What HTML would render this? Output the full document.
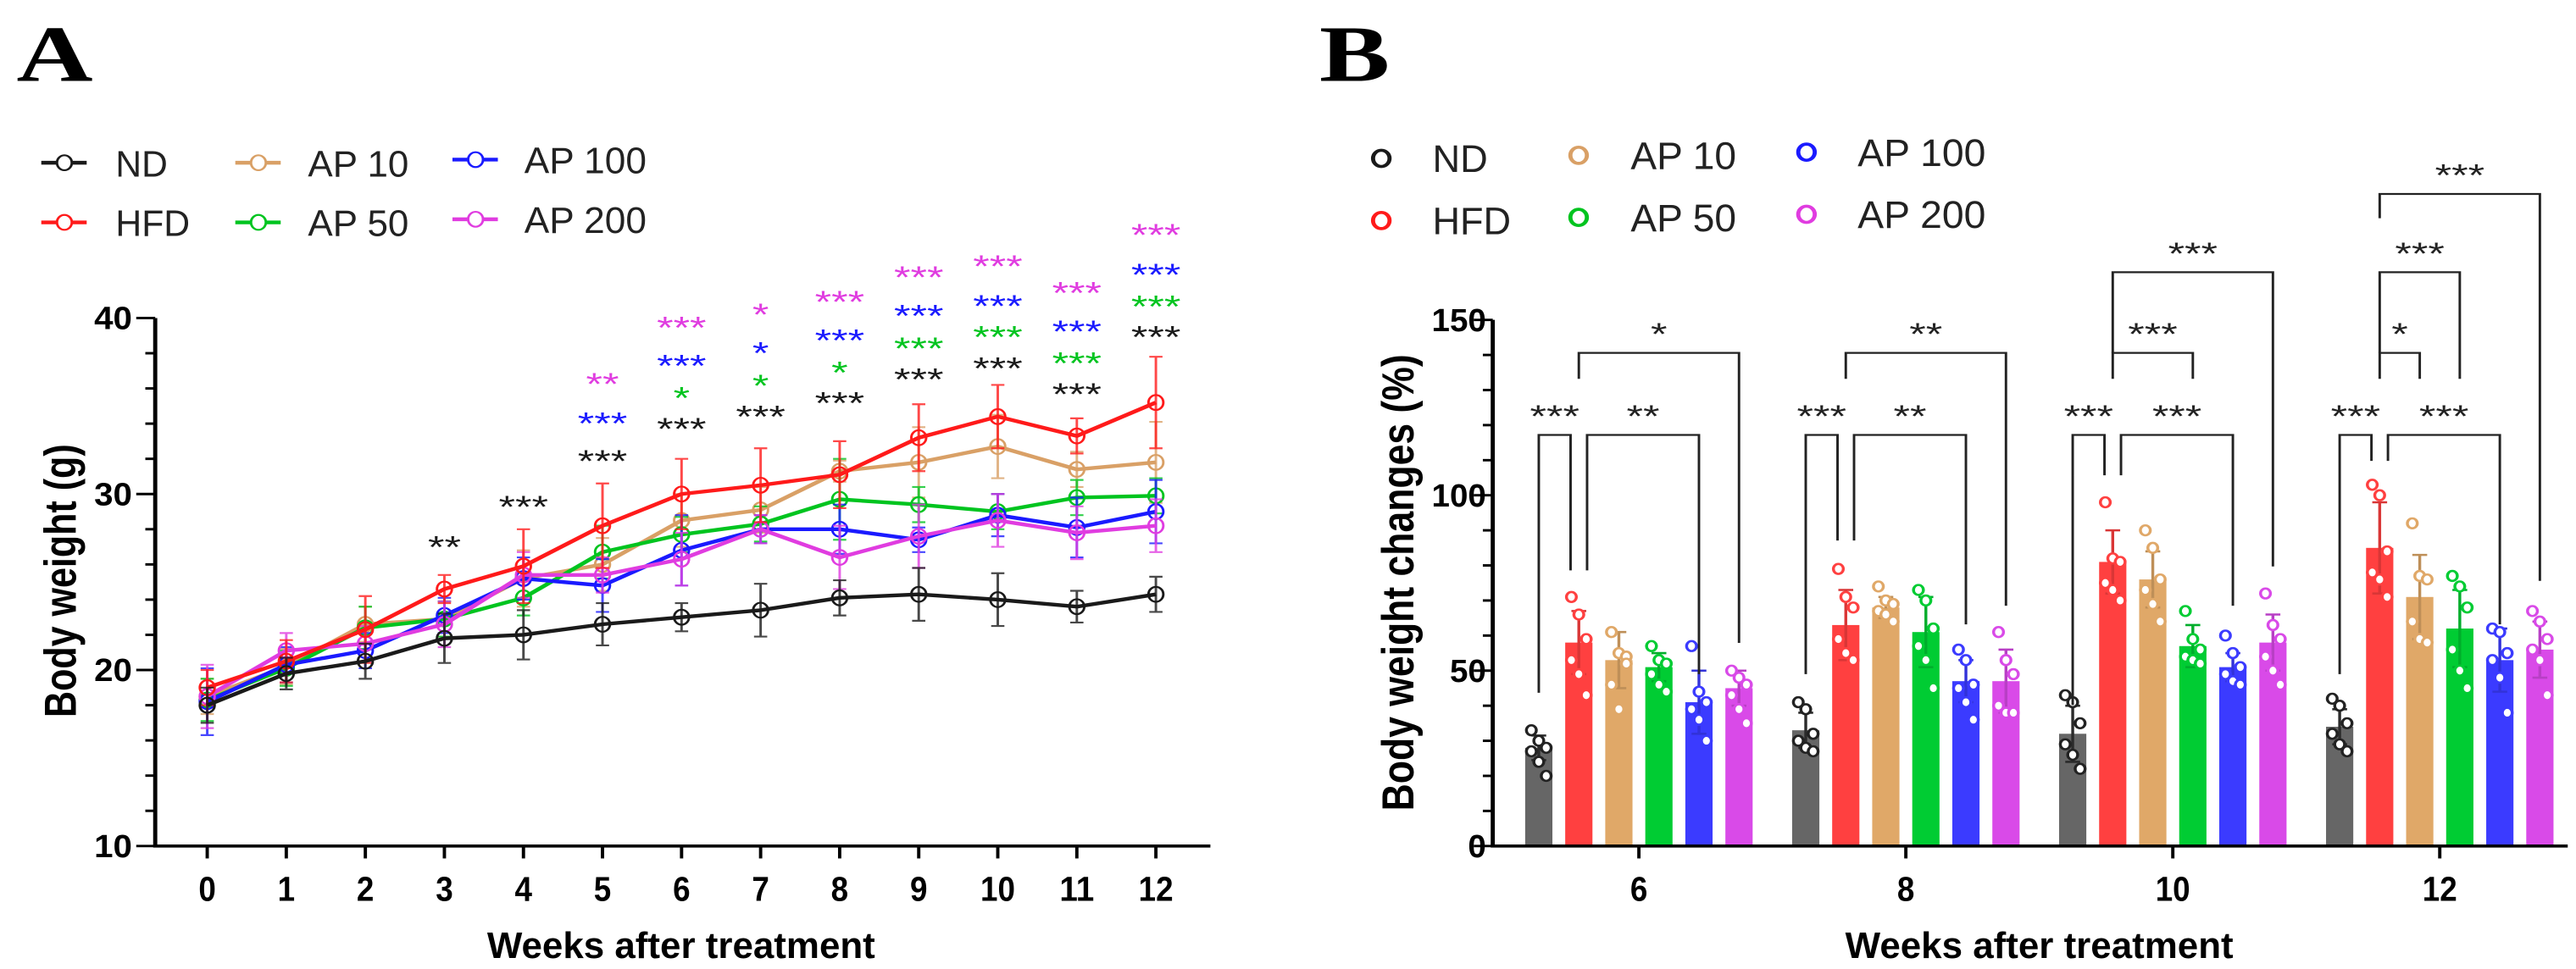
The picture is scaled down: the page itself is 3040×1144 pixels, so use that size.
<!DOCTYPE html>
<html><head><meta charset="utf-8"><style>
html,body{margin:0;padding:0;background:#fff;}
#wrap{position:relative;width:3040px;height:1144px;overflow:hidden;}
svg{position:absolute;top:0;}
text{font-family:"Liberation Sans",sans-serif;}
</style></head><body>
<div id="wrap">
<svg id="pa" style="left:0" width="1520" height="1144" viewBox="0 0 1560 1560" preserveAspectRatio="none"></svg>
<svg id="pb" style="left:1520px" width="1520" height="1144" viewBox="0 0 1560 1560" preserveAspectRatio="none"></svg>
</div>
<script>
// ---------- Panel A data ----------
const weeks = [0,1,2,3,4,5,6,7,8,9,10,11,12];
const seriesNames = ["ND","HFD","AP 10","AP 50","AP 100","AP 200"];
const ndVals   = [18.0,19.8,20.5,21.8,22.0,22.6,23.0,23.4,24.1,24.3,24.0,23.6,24.3];
const hfdVals  = [19.0,20.5,22.3,24.6,25.9,28.2,30.0,30.5,31.1,33.2,34.4,33.3,35.2];
const ap10Vals = [18.5,20.2,22.6,22.9,25.2,26.0,28.5,29.1,31.3,31.8,32.7,31.4,31.8];
const ap50Vals = [18.3,20.1,22.4,22.9,24.1,26.7,27.7,28.3,29.7,29.4,29.0,29.8,29.9];
const ap100Vals= [18.2,20.3,21.1,23.1,25.2,24.8,26.8,28.0,28.0,27.4,28.8,28.1,29.0];
const ap200Vals= [18.5,21.1,21.5,22.6,25.4,25.4,26.3,28.0,26.4,27.6,28.5,27.8,28.2];
const ndErr   = [1,0.9,1,1.4,1.4,1.2,0.8,1.5,1,1.5,1.5,0.9,1];
const hfdErr  = [1,1.2,1.9,0.8,2.1,2.4,2,2.1,1.9,1.9,1.8,1,2.6];
const ap10Err = [1,1,1,1,1.6,1.5,1.5,1.3,0.6,2,1.8,1,2.3];
const ap50Err = [1.2,1,1.2,1,1,1.5,1,1,2.3,1,1,1,1];
const ap100Err= [1.9,1,1,1,1.2,1.5,2,0.8,1.4,0.7,1.2,1.7,1.8];
const ap200Err= [1.8,1,1,1.3,1.3,1,1.5,0.8,1.8,1.8,1.5,1.5,1.5];
const yTicksA = [10,20,30,40];
const starWeeks = [3,4,5,5,5,6,6,6,6,7,7,7,7,8,8,8,8,9,9,9,9,10,10,10,10,11,11,11,11,12,12,12,12];
const starLabels = ["**","***","***","***","**","***","*","***","***","***","*","*","*","***","*","***","***","***","***","***","***","***","***","***","***","***","***","***","***","***","***","***","***"];
const starGroups = [0,0,0,4,5,0,3,4,5,0,3,4,5,0,3,4,5,0,3,4,5,0,3,4,5,0,3,4,5,0,3,4,5];
const starVals = [27.44,29.73,32.31,34.46,36.69,34.14,35.91,37.74,39.90,34.85,36.61,38.45,40.64,35.63,37.36,39.19,41.38,36.97,38.73,40.57,42.76,37.60,39.37,41.13,43.39,36.12,37.89,39.69,41.87,39.37,41.10,42.90,45.16];

// ---------- Panel B data ----------
const groupLabels = ["6","8","10","12"];
const barMeans = [[28,58,53,51,41,45],[33,63,68,61,47,47],[32,81,76,57,51,58],[34,85,71,62,53,56]];
const barSD = [[3.5,9,8,4,9,5],[5,10,3,10,6,9],[8,9,8,6,4,8],[5,13,12,11,9,8]];
const pts6 = [[33,30,28,27,24,20],[71,66,59,53,49,43],[61,55,54,46,39,52],[57,53,52,49,46,44],[57,44,41,39,36,30],[50,48,46,43,39,35]];
const pts8 = [[41,39,32,30,28,27],[79,71,68,59,55,53],[74,70,69,67,66,64],[73,70,62,57,53,45],[56,53,46,45,41,36],[61,53,49,40,38,38]];
const pts10 = [[43,41,35,29,26,22],[98,82,81,75,73,70],[90,85,76,73,69,64],[67,59,56,54,53,52],[60,55,51,49,47,46],[72,63,59,54,50,46]];
const pts12 = [[42,40,35,32,29,27],[103,100,84,78,76,71],[92,77,76,64,59,58],[77,74,68,56,50,45],[62,61,55,53,48,38],[67,64,59,56,53,43]];
const yTicksB = [0,50,100,150];
// brackets: group, barFrom, barTo, offFrom, offTo, top%, leftLegBottom%, rightLegBottom%, label
const brackets = [
 [0,0,1,0,-10,117.2,43.7,78.6,"***"],[0,1,4,10,0,117.2,78.6,49,"**"],[0,1,5,0,0,140.6,133.2,57.9,"*"],
 [1,0,1,0,-10,117.2,49,87.1,"***"],[1,1,4,10,0,117.2,87.1,63.2,"**"],[1,1,5,0,0,140.6,133.2,68.5,"**"],
 [2,0,1,0,-10,117.2,40.2,105.7,"***"],[2,1,4,10,0,117.2,105.7,68.5,"***"],[2,1,3,0,0,140.6,133.2,133.2,"***"],[2,1,5,0,0,163.6,140.6,79.7,"***"],
 [3,0,1,0,-10,117.2,49,109.8,"***"],[3,1,4,10,0,117.2,109.8,63.2,"***"],[3,1,2,0,0,140.6,133.2,133.2,"*"],[3,1,3,0,0,163.6,140.6,133.2,"***"],[3,1,5,0,0,185.9,179,75.6,"***"]
];

const lineColors = ["#1a1a1a","#ff1a1a","#d9a066","#00c41f","#1a1aff","#e03ce0"];
const barColors  = ["#666666","#ff4040","#e0a868","#00cc33","#3b3bff","#d94ae8"];
const NS="http://www.w3.org/2000/svg";
function mk(parent,tag,attrs,txt){const e=document.createElementNS(NS,tag);for(const k in attrs)e.setAttribute(k,attrs[k]);if(txt!==undefined)e.textContent=txt;parent.appendChild(e);return e;}

// ===== Panel A =====
const A=document.getElementById('pa');
const xA=w=>251+w*(1400-251)/12;
const yA=v=>1362-(v-10)*(850/30);
let t=mk(A,'text',{x:20,y:130,'font-size':128,'font-weight':'bold',style:'font-family:"Liberation Serif",serif'},'A');


let ax=mk(A,'path',{d:`M188 ${yA(40)} V1362 H1466`,stroke:'#000','stroke-width':5,fill:'none'});


for(let v=10;v<=40;v+=2){const maj=(v%10===0);mk(A,'line',{x1:maj?165:176,x2:188,y1:yA(v),y2:yA(v),stroke:'#000','stroke-width':4});}
yTicksA.forEach(v=>{const e=mk(A,'text',{x:160,y:yA(v)+18,'text-anchor':'end','font-size':52,'font-weight':'bold',textLength:46,lengthAdjust:'spacingAndGlyphs'},String(v));

});
weeks.forEach(w=>{mk(A,'line',{x1:xA(w),x2:xA(w),y1:1362,y2:1382,stroke:'#000','stroke-width':4});
const e=mk(A,'text',{x:xA(w),y:1450,'text-anchor':'middle','font-size':56,'font-weight':'bold',textLength:String(w).length*21,lengthAdjust:'spacingAndGlyphs'},String(w));

});
t=mk(A,'text',{x:825,y:1542,'text-anchor':'middle','font-size':60,'font-weight':'bold',textLength:470,lengthAdjust:'spacingAndGlyphs'},'Weeks after treatment');


t=mk(A,'text',{x:0,y:0,transform:'translate(92 935) rotate(-90)','text-anchor':'middle','font-size':54,'font-weight':'bold',textLength:440,lengthAdjust:'spacingAndGlyphs'},'Body weight (g)');


const allVals=[ndVals,hfdVals,ap10Vals,ap50Vals,ap100Vals,ap200Vals];
const allErr=[ndErr,hfdErr,ap10Err,ap50Err,ap100Err,ap200Err];
const drawOrder=[2,3,4,5,1,0];
drawOrder.forEach(s=>{
  const g=mk(A,'g',{});
  
  
  const c=lineColors[s];
  weeks.forEach((w,i)=>{const v=allVals[s][i],e=allErr[s][i];
    mk(g,'path',{d:`M${xA(w)} ${yA(v-e)} V${yA(v+e)} M${xA(w)-8} ${yA(v-e)} h16 M${xA(w)-8} ${yA(v+e)} h16`,stroke:c,'stroke-width':3,fill:'none','stroke-opacity':0.8});});
  mk(g,'polyline',{points:weeks.map((w,i)=>xA(w)+','+yA(allVals[s][i])).join(' '),stroke:c,'stroke-width':6,fill:'none','stroke-linejoin':'round'});
  weeks.forEach((w,i)=>{const p=mk(g,'ellipse',{cx:xA(w),cy:yA(allVals[s][i]),rx:9,ry:12,fill:'none',stroke:c,'stroke-width':3});
    
    });
});
starWeeks.forEach((w,i)=>{const e=mk(A,'text',{x:xA(w),y:yA(starVals[i])+30,'text-anchor':'middle','font-size':50,fill:lineColors[starGroups[i]],textLength:starLabels[i].length*20,lengthAdjust:'spacingAndGlyphs'},starLabels[i]);
  
  });
const legA=[[0,50,140,262,63],[1,50,140,358,90],[2,285,373,262,122],[3,285,373,358,122],[4,548,635,257,148],[5,548,635,353,148]];
legA.forEach(l=>{const g=mk(A,'g',{});
  
  
  const c=lineColors[l[0]];
  mk(g,'line',{x1:l[1],x2:l[1]+55,y1:l[3],y2:l[3],stroke:c,'stroke-width':6});
  mk(g,'ellipse',{cx:l[1]+28,cy:l[3],rx:9,ry:12,fill:'#fff',stroke:c,'stroke-width':3});
  mk(g,'text',{x:l[2],y:l[3]+22,'font-size':60,textLength:l[4],lengthAdjust:'spacingAndGlyphs',fill:'#222'},seriesNames[l[0]]);});

// ===== Panel B =====
const B=document.getElementById('pb');
const yB=p=>1362-p*(847/150);
const gx=g=>425+g*(970/3);
const bx=(g,i)=>gx(g)+(i-2.5)*48.5;
t=mk(B,'text',{x:38,y:130,'font-size':128,'font-weight':'bold',style:'font-family:"Liberation Serif",serif'},'B');


const allPts=[pts6,pts8,pts10,pts12];
groupLabels.forEach((gl,g)=>{
  barMeans[g].forEach((m,i)=>{const x=bx(g,i),c=barColors[i];
    const r=mk(B,'rect',{x:x-16.5,y:yB(m),width:33,height:yB(0)-yB(m),fill:c});
    
    
    const sd=barSD[g][i];
    mk(B,'path',{d:`M${x} ${yB(m-sd)} V${yB(m+sd)} M${x-9} ${yB(m-sd)} h18 M${x-9} ${yB(m+sd)} h18`,stroke:i===0?'#333':c,'stroke-width':3.5,fill:'none',style:'filter:brightness(0.85)'});
    allPts[g][i].forEach((p,k)=>{const dx=((k%3)-1)*9;
      const cc=mk(B,'ellipse',{cx:x+dx,cy:yB(p),rx:6,ry:8,fill:'#fff',stroke:i===0?'#222':c,'stroke-width':3.5});
      
      });
  });
  mk(B,'line',{x1:gx(g),x2:gx(g),y1:1362,y2:1382,stroke:'#000','stroke-width':4});
  const e=mk(B,'text',{x:gx(g),y:1450,'text-anchor':'middle','font-size':56,'font-weight':'bold',textLength:gl.length*21,lengthAdjust:'spacingAndGlyphs'},gl);
  
  
});
ax=mk(B,'path',{d:`M248 ${yB(150)} V1362 H1550`,stroke:'#000','stroke-width':5,fill:'none'});


for(let v=0;v<=150;v+=10){const maj=(v%50===0);mk(B,'line',{x1:maj?225:236,x2:248,y1:yB(v),y2:yB(v),stroke:'#000','stroke-width':4});}
yTicksB.forEach(v=>{const e=mk(B,'text',{x:240,y:yB(v)+18,'text-anchor':'end','font-size':52,'font-weight':'bold',textLength:String(v).length*22,lengthAdjust:'spacingAndGlyphs'},String(v));
  
  });
t=mk(B,'text',{x:910,y:1542,'text-anchor':'middle','font-size':60,'font-weight':'bold',textLength:470,lengthAdjust:'spacingAndGlyphs'},'Weeks after treatment');


t=mk(B,'text',{x:0,y:0,transform:'translate(152 938) rotate(-90)','text-anchor':'middle','font-size':54,'font-weight':'bold',textLength:735,lengthAdjust:'spacingAndGlyphs'},'Body weight changes  (%)');


brackets.forEach(b=>{const x1=bx(b[0],b[1])+b[3],x2=bx(b[0],b[2])+b[4];
  const g=mk(B,'g',{});
  
  
  mk(g,'path',{d:`M${x1} ${yB(b[6])} V${yB(b[5])} H${x2} V${yB(b[7])}`,stroke:'#222','stroke-width':3,fill:'none'});
  mk(g,'text',{x:(x1+x2)/2,y:yB(b[5]+7.6)+30,'text-anchor':'middle','font-size':50,fill:'#222',textLength:b[8].length*20,lengthAdjust:'spacingAndGlyphs'},b[8]);});
const legB=[[0,113,175,255,67],[1,113,175,355,95],[2,352,415,250,128],[3,352,415,350,128],[4,628,690,245,155],[5,628,690,345,155]];
legB.forEach(l=>{const g=mk(B,'g',{});
  
  
  mk(g,'ellipse',{cx:l[1],cy:l[3],rx:10,ry:13,fill:'none',stroke:lineColors[l[0]],'stroke-width':5});
  mk(g,'text',{x:l[2],y:l[3]+22,'font-size':62,textLength:l[4],lengthAdjust:'spacingAndGlyphs',fill:'#222'},seriesNames[l[0]]);});
</script>
</body></html>
